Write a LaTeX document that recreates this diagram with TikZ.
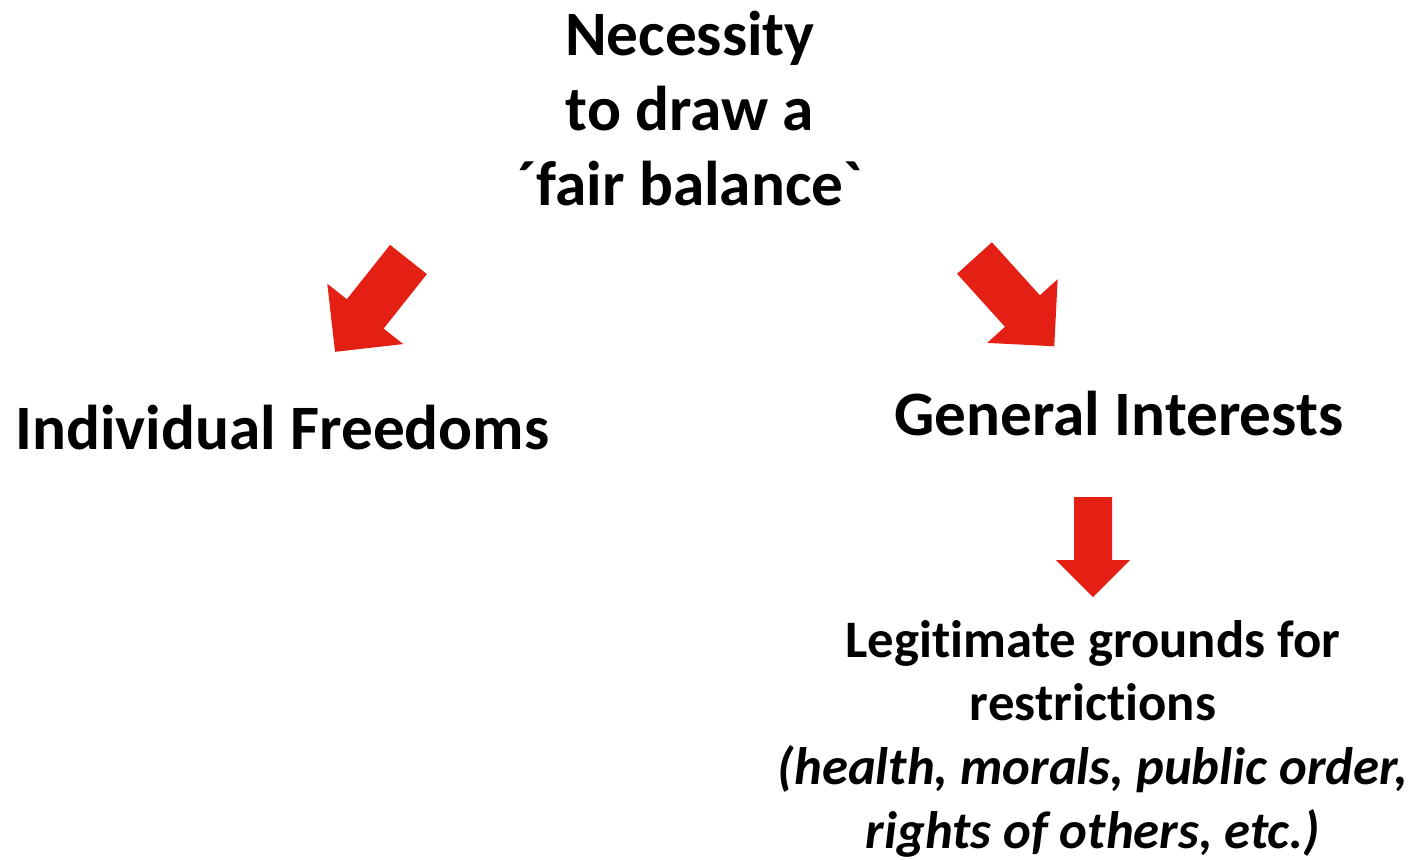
\documentclass[tikz,border=0pt]{standalone}
\usepackage{fontspec}
\newfontfamily\slidefont{Carlito}[Ligatures=NoCommon]
\definecolor{arrowred}{RGB}{228,31,20}
\tikzset{
  heading/.style={font=\slidefont\bfseries\fontsize{18}{21.3}\selectfont, inner sep=0pt, align=center},
  note/.style={font=\slidefont\bfseries\fontsize{15}{18.1}\selectfont, inner sep=0pt, align=center}
}
\begin{document}
\begin{tikzpicture}
             \useasboundingbox (0,0) rectangle (14.16,8.59);
             % base anchor sits on the last line of a multi-line node
             \node[heading,anchor=base] (necessity) at (6.90,6.54) {Necessity\\to draw a\\´fair balance`};
             \node[heading,anchor=base] (freedoms) at (2.825,4.10) {Individual Freedoms};
             \node[heading,anchor=base] (interests) at (11.19,4.24) {General Interests};
             \node[note,anchor=base] (grounds) at (10.93,0.11) {Legitimate grounds for\\restrictions\\\itshape(health, morals, public order,\\\itshape rights of others, etc.)};
             % block arrows: tail x/tail y/angle/length/shaft/head width
             \foreach \x/\y/\a/\l/\s/\w in {4.085/5.995/231.5/1.18/0.47/0.97,9.745/6.01/-47.9/1.19/0.47/0.95,10.93/3.62/-90/1.0/0.38/0.74} {
                 \pgfmathsetmacro{\h}{\l-\w/2}
                 \fill[arrowred,shift={(\x,\y)},rotate=\a] (0,-\s/2) -- (\h,-\s/2) -- (\h,-\w/2) -- (\l,0) -- (\h,\w/2) -- (\h,\s/2) -- (0,\s/2) -- cycle;
             }
        \end{tikzpicture}
\end{document}
